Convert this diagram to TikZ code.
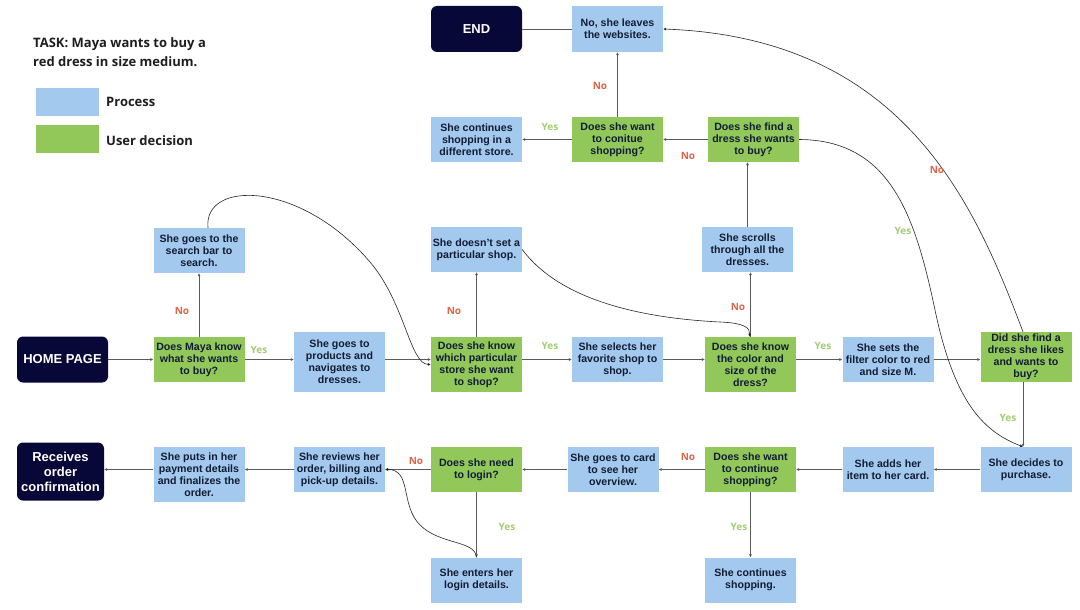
\documentclass[tikz,border=0pt]{standalone}
\usepackage{fontspec}
\setmainfont{Liberation Sans}
\newfontfamily\osans{Open Sans}
\usetikzlibrary{arrows.meta}
\definecolor{procblue}{RGB}{164,201,238}
\definecolor{decgreen}{RGB}{146,199,90}
\definecolor{navy}{RGB}{8,8,56}
\definecolor{txt}{RGB}{18,28,52}
\definecolor{linegray}{RGB}{90,90,90}
\definecolor{yesgreen}{RGB}{160,205,115}
\definecolor{nored}{RGB}{224,100,72}
\definecolor{titlec}{RGB}{30,30,30}
\begin{document}
\begin{tikzpicture}[x=1pt,y=-1pt,
  box/.style={rectangle, inner sep=1pt, align=center, text=txt,
    minimum width=91pt, minimum height=45pt,
    font=\bfseries\fontsize{10.6}{12}\selectfont},
  proc/.style={box, fill=procblue},
  dec/.style={box, fill=decgreen},
  term/.style={rectangle, rounded corners=6pt, fill=navy, text=white, align=center,
    minimum width=91pt, minimum height=46pt, inner sep=1pt,
    font=\bfseries\fontsize{13}{15}\selectfont},
  lab/.style={inner sep=0pt, font=\osans\bfseries\fontsize{10}{12}\selectfont},
  yes/.style={lab, text=yesgreen},
  no/.style={lab, text=nored},
  conn/.style={draw=linegray, line width=0.8pt, -{Latex[length=3pt,width=3pt]}},
  plain/.style={draw=linegray, line width=0.8pt},
  curv/.style={draw=black!85, line width=0.6pt, -{Latex[length=3pt,width=3pt]}},
  legbox/.style={inner sep=0pt, minimum width=63pt, minimum height=28pt},
  legtext/.style={anchor=west, inner sep=0pt, text=titlec, font=\osans\bfseries\fontsize{13}{19.5}\selectfont}
]
\useasboundingbox (0,0) rectangle (1080,610);
\fill[white] (0,0) rectangle (1080,610);

% legend
\node[legtext, align=left] (title) at (33,52) {TASK: Maya wants to buy a\\red dress in size medium.};
\node[legbox, fill=procblue] (lp) at (67.5,102) {};
\node[legbox, fill=decgreen] (ld) at (67.5,139) {};
\node[legtext] (lpt) at (106,102) {Process};
\node[legtext] (ldt) at (106,141) {User decision};

% top rows
\node[term] (end) at (476.5,29) {END};
\node[proc, minimum height=46pt] (leave) at (617.5,29) {No, she leaves\\the websites.};
\node[proc] (contdiff) at (476.5,139.5) {She continues\\shopping in a\\different store.};
\node[dec] (want) at (617.5,139.5) {Does she want\\to conitue\\shopping?};
\node[dec] (find) at (753.5,139.5) {Does she find a\\dress she wants\\to buy?};
\node[proc] (search) at (199,250.5) {She goes to the\\search bar to\\search.};
\node[proc] (noshop) at (476.5,249.5) {She doesn't set a\\particular shop.};
\node[proc] (scroll) at (747.5,249.5) {She scrolls\\through all the\\dresses.};

% middle row
\node[term] (home) at (62.5,359.5) {HOME PAGE};
\node[dec] (maya) at (199,359.5) {Does Maya know\\what she wants\\to buy?};
\node[proc, minimum height=60pt] (prod) at (339.5,362) {She goes to\\products and\\navigates to\\dresses.};
\node[dec, minimum height=55pt] (store) at (476.5,364.5) {Does she know\\which particular\\store she want\\to shop?};
\node[proc] (fav) at (617.5,359.5) {She selects her\\favorite shop to\\shop.};
\node[dec, minimum height=55pt] (color) at (750.5,364.5) {Does she know\\the color and\\size of the\\dress?};
\node[proc] (filter) at (888,359.5) {She sets the\\filter color to red\\and size M.};
\node[dec, minimum height=50pt] (likes) at (1026,357) {Did she find a\\dress she likes\\and wants to\\buy?};

% bottom rows
\node[proc] (decide) at (1026,469.5) {She decides to\\purchase.};
\node[proc] (adds) at (888,469.5) {She adds her\\item to her card.};
\node[dec] (wantc) at (750.5,469.5) {Does she want\\to continue\\shopping?};
\node[proc] (card) at (613,469.5) {She goes to card\\to see her\\overview.};
\node[dec] (login) at (476.5,469.5) {Does she need\\to login?};
\node[proc] (review) at (339.5,469.5) {She reviews her\\order, billing and\\pick-up details.};
\node[proc, minimum height=55pt] (pay) at (199,474.5) {She puts in her\\payment details\\and finalizes the\\order.};
\node[term, minimum width=87pt, minimum height=58pt] (recv) at (60.5,471.5) {Receives\\order\\confirmation};
\node[proc] (enter) at (476.5,580) {She enters her\\login details.};
\node[proc] (conts) at (750.5,580) {She continues\\shopping.};

% straight connectors
\draw[plain] (leave.west) -- (end.east);
\draw[conn] (want.north) -- (leave.south);
\draw[conn] (want.west) -- (contdiff.east);
\draw[conn] (find.west) -- (want.east);
\draw[conn] (scroll.north) -- (scroll.north |- find.south);
\draw[conn] (maya.north) -- (search.south);
\draw[conn] (store.north) -- (noshop.south);
\draw[conn] (color.north) -- (color.north |- scroll.south);
\draw[conn] (home.east) -- (maya.west);
\draw[conn] (maya.east) -- (maya.east -| prod.west);
\draw[conn] (prod.east |- home.east) -- (store.west |- home.east);
\draw[conn] (store.east |- fav.west) -- (fav.west);
\draw[conn] (fav.east) -- (fav.east -| color.west);
\draw[conn] (color.east |- filter.west) -- (filter.west);
\draw[conn] (filter.east) -- (filter.east -| likes.west);
\draw[conn] ([xshift=-3pt]likes.south) -- ([xshift=-3pt]decide.north);
\draw[conn] (decide.west) -- (adds.east);
\draw[conn] (adds.west) -- (wantc.east);
\draw[conn] (wantc.west) -- (card.east);
\draw[conn] (wantc.south) -- (conts.north);
\draw[conn] (card.west) -- (login.east);
\draw[conn] (login.west) -- (review.east);
\draw[conn] (login.south) -- (enter.north);
\draw[conn] (review.west) -- (review.west -| pay.east);
\draw[conn] (pay.west |- review.west) -- (recv.east |- review.west);

% curved connectors
\draw[curv] ([xshift=9pt]search.north) .. controls (203,180) and (300,180) .. (370,262)
  .. controls (405,303) and (410,364) .. (store.west);
\draw[curv] (noshop.east) .. controls (560,300) and (640,318) .. (720,322)
  .. controls (745,323) and (750,328) .. ([xshift=-1pt]color.north);
\draw[curv] (find.east) .. controls (890,140) and (915,215) .. (935,310)
  .. controls (955,405) and (985,432) .. ([xshift=-3pt]decide.north);
\draw[curv] ([xshift=-3pt]likes.north) .. controls (975,205) and (905,38) .. (leave.east);
\draw[curv] (enter.north) .. controls (475,540) and (440,545) .. (420,525)
  .. controls (400,505) and (412,469.5) .. (review.east);

% labels
\node[no] (n1) at (182,311) {No};
\node[yes] (y1) at (259,350) {Yes};
\node[no] (n2) at (454,311) {No};
\node[yes] (y2) at (550,346) {Yes};
\node[no] (n3) at (738,307) {No};
\node[yes] (y3) at (823,346) {Yes};
\node[no] (n4) at (600,86) {No};
\node[yes] (y4) at (550,127) {Yes};
\node[no] (n5) at (688,156) {No};
\node[yes] (y5) at (903,231) {Yes};
\node[no] (n6) at (937,170) {No};
\node[yes] (y6) at (1008,418) {Yes};
\node[no] (n7) at (416,461) {No};
\node[yes] (y7) at (507,527) {Yes};
\node[no] (n8) at (688,457) {No};
\node[yes] (y8) at (739,527) {Yes};
\end{tikzpicture}
\end{document}
